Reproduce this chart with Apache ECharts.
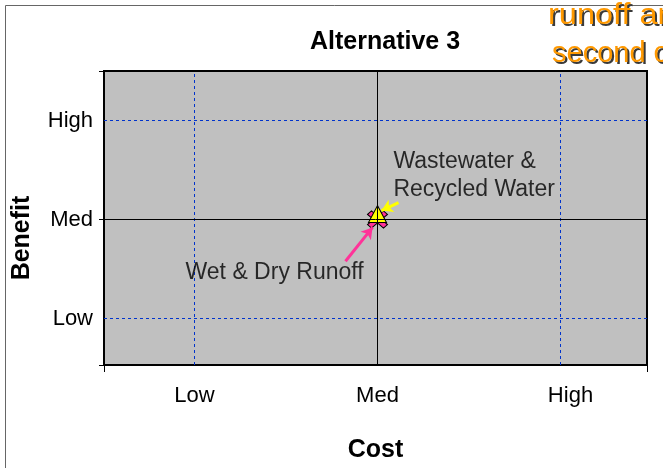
<!DOCTYPE html>
<html>
<head>
<meta charset="utf-8">
<script src="https://cdn.jsdelivr.net/npm/echarts@6/dist/echarts.min.js"></script>
<style>
  html, body { margin: 0; padding: 0; background: #fff; }
  #chart { width: 663px; height: 468px; }
</style>
</head>
<body>
<div id="chart"></div>
<script>
// Rating scale shared by both axes
const levelValues = [1, 2, 3];
const levelLabels = ['Low', 'Med', 'High'];

// Alternatives plotted as [cost, benefit]
const wetDryRunoff = [[2, 2]];
const wastewaterRecycled = [[2, 2.055]];

// Callout arrows, each [[x0, y0], [x1, y1]] in rating units
const runoffArrow = [[1.825, 1.578], [1.973, 1.92]];
const wastewaterArrow = [[2.115, 2.171], [2.022, 2.09]];

// Callout text anchors
const runoffLabelAt = [0.951, 1.467];
const wastewaterLabelAt = [2.087, 2.724];

// Axis extents (rating units)
const xRange = [0.5055, 3.4727];
const yRange = [0.5303, 3.5];

const FONT = 'Liberation Sans, Arial, sans-serif';

const chart = echarts.init(document.getElementById('chart'), null, { renderer: 'canvas' });

function levelName(v) {
  const i = levelValues.indexOf(v);
  if (i < 0) return '';
  return v === 3 ? '{h|' + levelLabels[i] + '}' : levelLabels[i];
}
function levelNameY(v) {
  const i = levelValues.indexOf(v);
  return i < 0 ? '' : levelLabels[i];
}

// Orange banner text with a dark drop shadow drawn as an offset copy
function bannerText(text, x, y, sx) {
  const base = { text: text, fontFamily: FONT, fontSize: 29 };
  return [
    { type: 'text', x: x + 2, y: y + 2, scaleX: sx, z: 9,
      style: Object.assign({ fill: '#3a3a3a' }, base) },
    { type: 'text', x: x, y: y, scaleX: sx, z: 10,
      style: Object.assign({ fill: '#ff9900' }, base) }
  ];
}

const dashedBlue = { color: '#0033cc', type: [3, 3], width: 1 };
const solidBlack = { color: '#000', type: 'solid', width: 1 };

const option = {
  backgroundColor: '#ffffff',
  animation: false,
  title: {
    text: 'Alternative 3',
    left: 305, top: 25,
    textStyle: { fontFamily: FONT, fontSize: 25, fontWeight: 'bold', color: '#000' }
  },
  graphic: [
    { type: 'rect', shape: { x: 5.5, y: 5.5, width: 700, height: 500 },
      style: { fill: null, stroke: '#666', lineWidth: 1 }, z: -1 }
  ].concat(bannerText('runoff and', 548, 1, 1.12), bannerText('second c', 552, 39, 1.0)),
  grid: {
    left: 104, right: 16, top: 71, bottom: 103,
    show: true, backgroundColor: '#c0c0c0', borderColor: '#000', borderWidth: 2
  },
  xAxis: {
    type: 'value', min: xRange[0], max: xRange[1],
    name: 'Cost', nameLocation: 'middle', nameGap: 73,
    nameTextStyle: { fontFamily: FONT, fontSize: 25, fontWeight: 'bold', color: '#000' },
    axisLine: { show: true, lineStyle: { color: '#000', width: 2 } },
    axisTick: { show: true, customValues: xRange, length: 7, lineStyle: { color: '#000', width: 1 } },
    axisLabel: { customValues: levelValues, formatter: levelName, margin: 20,
      fontFamily: FONT, fontSize: 22, color: '#000',
      rich: { h: { fontFamily: FONT, fontSize: 22, color: '#000', padding: [0, 0, 0, 20] } } },
    splitLine: { show: false }
  },
  yAxis: {
    type: 'value', min: yRange[0], max: yRange[1],
    name: 'Benefit', nameLocation: 'middle', nameGap: 69, nameRotate: 90,
    nameTextStyle: { fontFamily: FONT, fontSize: 25, fontWeight: 'bold', color: '#000',
      padding: [0, 40, 0, 0] },
    axisLine: { show: true, lineStyle: { color: '#000', width: 2 } },
    axisTick: { show: true, customValues: [yRange[0], 2, yRange[1]], length: 5, lineStyle: { color: '#000', width: 1 } },
    axisLabel: { customValues: levelValues, formatter: levelNameY, margin: 11,
      fontFamily: FONT, fontSize: 22, color: '#000' },
    splitLine: { show: false }
  },
  series: [
    {
      // reference lines at each rating level
      type: 'scatter', data: [], silent: true, z: 1,
      markLine: {
        symbol: 'none', silent: true, animation: false,
        label: { show: false },
        data: [
          { xAxis: 1, lineStyle: dashedBlue },
          { xAxis: 3, lineStyle: dashedBlue },
          { yAxis: 1, lineStyle: dashedBlue },
          { yAxis: 3, lineStyle: dashedBlue },
          { xAxis: 2, lineStyle: solidBlack },
          { yAxis: 2, lineStyle: solidBlack }
        ]
      }
    },
    {
      name: 'Wet & Dry Runoff', type: 'scatter', data: wetDryRunoff, z: 3,
      symbol: 'path://M0,2 L2,0 L5,3 L8,0 L10,2 L7,5 L10,8 L8,10 L5,7 L2,10 L0,8 L3,5 Z',
      symbolSize: [20, 17],
      itemStyle: { color: '#ff3399', borderColor: '#000', borderWidth: 1, opacity: 1 },
      markLine: {
        silent: true, symbol: ['none', 'arrow'], symbolSize: [10, 11],
        label: { show: false },
        lineStyle: { color: '#ff3399', width: 3, type: 'solid', opacity: 1 },
        data: [[{ coord: runoffArrow[0] }, { coord: runoffArrow[1] }]]
      }
    },
    {
      name: 'Wastewater & Recycled Water', type: 'scatter', data: wastewaterRecycled, z: 4,
      symbol: 'triangle', symbolSize: [18, 17],
      itemStyle: { color: '#ffff00', borderColor: '#000', borderWidth: 1, opacity: 1 },
      markLine: {
        silent: true, symbol: ['none', 'arrow'], symbolSize: [10, 11],
        label: { show: false },
        lineStyle: { color: '#ffff00', width: 3, type: 'solid', opacity: 1 },
        data: [[{ coord: wastewaterArrow[0] }, { coord: wastewaterArrow[1] }]]
      }
    },
    {
      // callout captions
      type: 'scatter', symbolSize: 0, silent: true, z: 5,
      data: [
        { value: runoffLabelAt, label: { show: true, formatter: 'Wet & Dry Runoff',
            position: 'right', distance: 0, align: 'left', verticalAlign: 'middle' } },
        { value: wastewaterLabelAt, label: { show: true, formatter: 'Wastewater &\nRecycled Water',
            position: 'right', distance: 0, align: 'left', verticalAlign: 'top', lineHeight: 28 } }
      ],
      label: { fontFamily: FONT, fontSize: 23, color: '#000' }
    }
  ]
};

chart.setOption(option);
</script>
</body>
</html>
